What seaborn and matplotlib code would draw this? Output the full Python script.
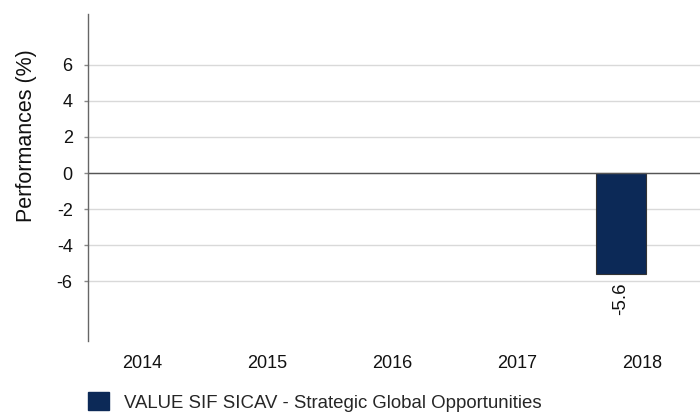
import pandas as pd
import numpy as np
import matplotlib
matplotlib.use("Agg")
import matplotlib.pyplot as plt
import seaborn as sns
from matplotlib.patches import Patch

# data
years = ["2014", "2015", "2016", "2017", "2018"]
performance = [np.nan, np.nan, np.nan, np.nan, -5.6]
fund_name = "VALUE SIF SICAV - Strategic Global Opportunities"

bar_color = "#0c2957"

sns.set_style("white")
plt.rcParams['font.family'] = ['Liberation Sans', 'DejaVu Sans']

df = pd.DataFrame({"year": years, "perf": performance})

fig = plt.figure(figsize=(7, 4.12), dpi=100)
ax = fig.add_axes([0.1257, 0.1723, 0.8743, 0.7937])

sns.barplot(data=df, x="year", y="perf", order=years, color=bar_color,
            width=0.4, edgecolor="#333333", linewidth=0.8, saturation=1, ax=ax)

# value label under the bar, rotated
for i, v in enumerate(performance):
    if not np.isnan(v):
        ax.text(i, v - 0.45, f"{v:.1f}", rotation=90, ha="center", va="top",
                fontsize=13.5, color="#111111")

ax.set_ylim(-9.33, 8.83)
ax.set_yticks([-6, -4, -2, 0, 2, 4, 6])
ax.set_yticklabels(["-6", "-4", "-2", "0", "2", "4", "6"], fontsize=13, color="#111111")
ax.set_xlim(-0.264, 4.632)
# year labels sit a bit right of the bar
ax.set_xticks(np.arange(len(years)) + 0.168)
ax.set_xticklabels(years, fontsize=13, color="#111111")
ax.tick_params(axis="x", length=0, pad=10)
ax.tick_params(axis="y", length=3, width=1, color="#888888", pad=8, left=True)

ax.grid(axis="y", color="#d9d9d9", linewidth=1)
ax.axhline(0, color="#555555", linewidth=1, zorder=1)
ax.set_axisbelow(True)

for s in ["top", "right", "bottom"]:
    ax.spines[s].set_visible(False)
ax.spines["left"].set_color("#666666")
ax.spines["left"].set_linewidth(1)

ax.set_xlabel("")
ax.set_ylabel("Performances (%)", fontsize=15.5, color="#111111")
ax.yaxis.set_label_coords(-0.083, 0.627)

handles = [Patch(facecolor=bar_color, edgecolor=bar_color)]
fig.legend(handles, [fund_name], loc="lower left", bbox_to_anchor=(0.102, -0.04),
           frameon=False, fontsize=13.4, handlelength=1.1, handleheight=1.1,
           handletextpad=0.8)

fig.savefig("out.png", dpi=100)
